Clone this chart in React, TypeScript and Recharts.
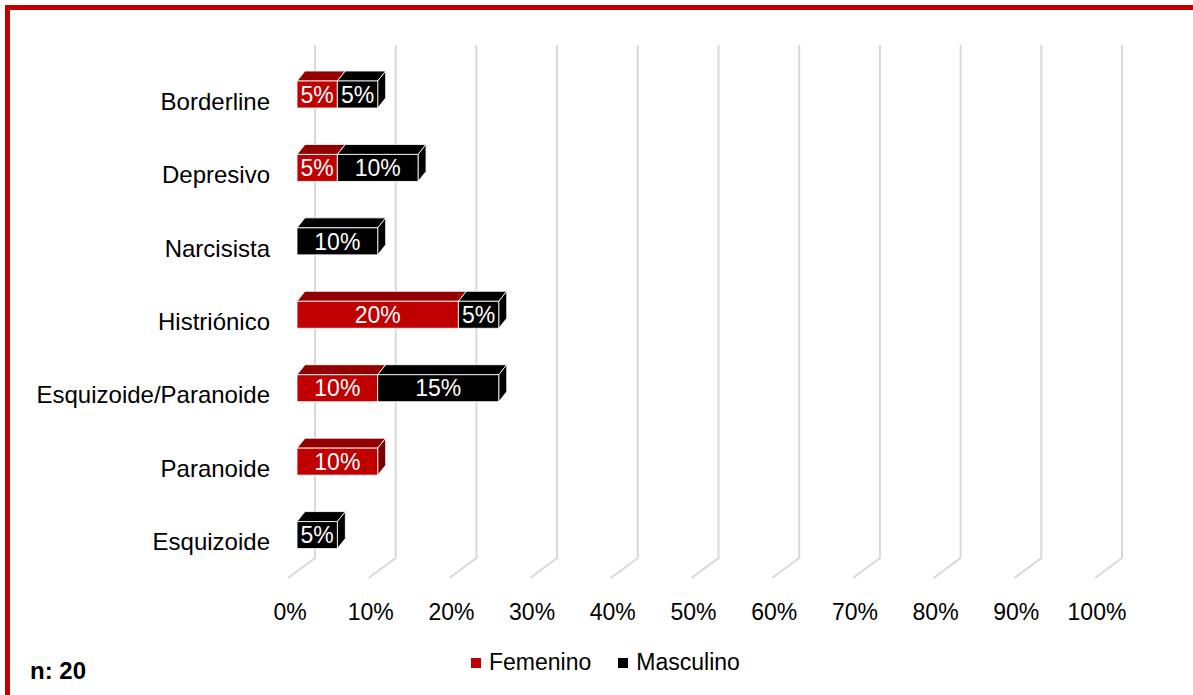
import React from "react";
import { BarChart, Bar, CartesianGrid, LabelList, XAxis, YAxis } from "recharts";

const categories = [
  "Borderline",
  "Depresivo",
  "Narcisista",
  "Histriónico",
  "Esquizoide/Paranoide",
  "Paranoide",
  "Esquizoide",
];
const femenino = [5, 5, 0, 20, 10, 10, 0];
const masculino = [5, 10, 10, 5, 15, 0, 5];
const xTicks = [0, 10, 20, 30, 40, 50, 60, 70, 80, 90, 100];

const series = [
  { key: "femenino", name: "Femenino", color: "#C00000", top: "#920000", side: "#7A0000" },
  { key: "masculino", name: "Masculino", color: "#000000", top: "#000000", side: "#000000" },
];

const data = categories.map((name, i) => ({
  name,
  femenino: femenino[i],
  masculino: masculino[i],
}));

const FONT = "'Liberation Sans', Arial, sans-serif";
const DX = 8;
const DY = 10;

const Box3D = (props: any) => {
  const { x, y, width, height, front, top, side } = props;
  if (!width || width <= 0) return <g />;
  const w = width;
  const h = height;
  return (
    <g stroke="#ffffff" strokeWidth={1} strokeOpacity={0.85}>
      <polygon
        points={`${x},${y} ${x + w},${y} ${x + w + DX},${y - DY} ${x + DX},${y - DY}`}
        fill={top}
      />
      <polygon
        points={`${x + w},${y} ${x + w + DX},${y - DY} ${x + w + DX},${y + h - DY} ${x + w},${y + h}`}
        fill={side}
      />
      <rect x={x} y={y} width={w} height={h} fill={front} />
    </g>
  );
};

const GridLine = (props: any) => {
  const { x1, y1, y2 } = props;
  return (
    <path
      key={props.key}
      d={`M${x1 + 18},${y1 - 13} L${x1 + 18},${y2 - 14} L${x1 - 9},${y2 + 6}`}
      stroke="#d9d9d9"
      strokeWidth={2}
      fill="none"
    />
  );
};

const CategoryTick = ({ x, y, payload }: any) => (
  <text x={x} y={y + 15} textAnchor="end" fill="#000" fontSize={24} fontFamily={FONT}>
    {payload.value}
  </text>
);

const PercentTick = ({ x, y, payload }: any) => (
  <text x={x - 7} y={y + 40} textAnchor="middle" fill="#000" fontSize={23} fontFamily={FONT}>
    {`${payload.value}%`}
  </text>
);

const fmt = (v: any) => (v ? `${v}%` : "");

export default function App() {
  return (
    <div
      style={{
        position: "fixed",
        left: 0,
        top: 0,
        width: 1193,
        height: 695,
        overflow: "hidden",
        background: "#fff",
        fontFamily: FONT,
      }}
    >
      <div
        style={{
          position: "absolute",
          left: 5,
          top: 5,
          width: 1300,
          height: 800,
          borderTop: "5px solid #C00000",
          borderLeft: "5px solid #C00000",
        }}
      />
      <div style={{ position: "absolute", left: 0, top: 0 }}>
        <BarChart
          width={1193}
          height={695}
          data={data}
          layout="vertical"
          barSize={27}
          margin={{ top: 58, right: 89, left: 97, bottom: 83 }}
        >
          <CartesianGrid horizontal={false} vertical={GridLine} />
          <XAxis
            type="number"
            domain={[0, 100]}
            ticks={xTicks}
            axisLine={false}
            tickLine={false}
            height={40}
            tick={PercentTick}
            interval={0}
          />
          <YAxis
            type="category"
            dataKey="name"
            width={200}
            axisLine={false}
            tickLine={false}
            tickSize={0}
            tickMargin={27}
            tick={CategoryTick}
            interval={0}
          />
          {series.map((s) => (
            <Bar
              key={s.key}
              dataKey={s.key}
              name={s.name}
              stackId="a"
              fill={s.color}
              isAnimationActive={false}
              shape={(p: any) => <Box3D {...p} front={s.color} top={s.top} side={s.side} />}
            >
              <LabelList
                dataKey={s.key}
                position="center"
                fill="#ffffff"
                fontSize={23}
                fontFamily={FONT}
                formatter={fmt}
              />
            </Bar>
          ))}
        </BarChart>
      </div>
      <div
        style={{
          position: "absolute",
          left: 30,
          top: 657,
          fontSize: 24,
          fontWeight: "bold",
          color: "#000",
        }}
      >
        n: 20
      </div>
      <div
        style={{
          position: "absolute",
          left: 471,
          top: 649,
          display: "flex",
          alignItems: "center",
          fontSize: 23,
          color: "#000",
        }}
      >
        {series.map((s, i) => (
          <div key={s.key} style={{ display: "flex", alignItems: "center", marginLeft: i ? 27 : 0 }}>
            <span style={{ width: 10, height: 10, background: s.color, marginRight: 8, display: "inline-block" }} />
            <span>{s.name}</span>
          </div>
        ))}
      </div>
    </div>
  );
}
